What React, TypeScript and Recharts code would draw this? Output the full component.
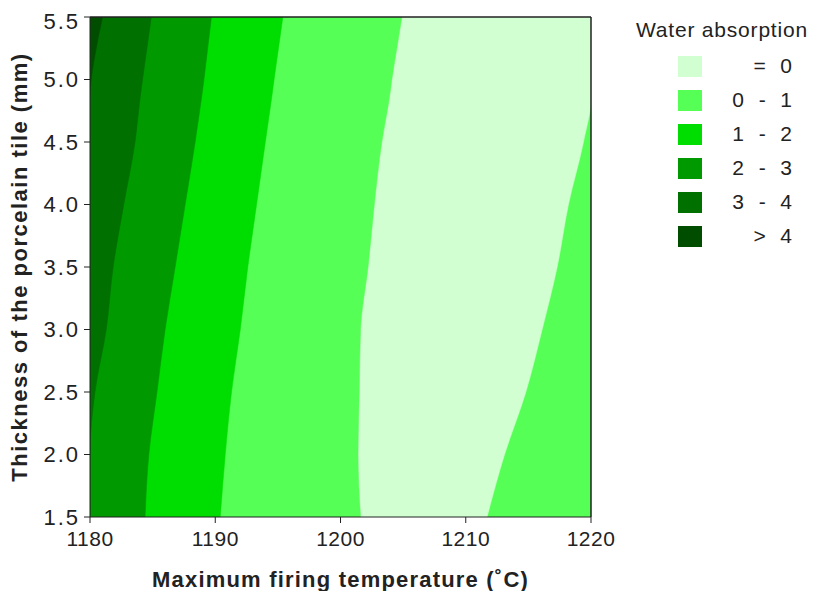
import React from 'react';
import { ComposedChart, Area, XAxis, YAxis, CartesianGrid, ReferenceLine } from 'recharts';

// Thickness of the porcelain tile (mm), bottom to top
const thickness = [1.5, 2.0, 2.5, 3.0, 3.5, 4.0, 4.5, 4.85, 5.0, 5.25, 5.5];
// Contour boundaries: temperature (°C) where each band ends, read at each thickness
const edgeOver4 = [1180, 1180, 1180, 1180, 1180, 1180, 1180, 1180, 1180.1, 1180.5, 1181.0];
const edge3to4 = [1180, 1180, 1180.4, 1181.3, 1181.85, 1182.7, 1183.6, 1184.0, 1184.2, 1184.55, 1184.9];
const edge2to3 = [1184.4, 1184.7, 1185.35, 1186.0, 1186.8, 1187.6, 1188.4, 1188.9, 1189.1, 1189.4, 1189.7];
const edge1to2 = [1190.4, 1190.8, 1191.3, 1192.0, 1192.6, 1193.3, 1194.0, 1194.5, 1194.7, 1195.05, 1195.4];
const edge0to1 = [1201.6, 1201.4, 1201.5, 1201.6, 1202.2, 1202.7, 1203.3, 1203.9, 1204.1, 1204.5, 1204.9];
const edgeZero = [1211.7, 1213.1, 1214.8, 1216.1, 1217.3, 1218.2, 1219.4, 1220, 1220, 1220, 1220];

const legendLabels = ['=  0', '0  -  1', '1  -  2', '2  -  3', '3  -  4', '>  4'];
const legendColors = ['#d2ffd2', '#55ff55', '#00dd00', '#009a00', '#007000', '#004d00'];

const xTicks = [1180, 1190, 1200, 1210, 1220];
const yTicks = [1.5, 2.0, 2.5, 3.0, 3.5, 4.0, 4.5, 5.0, 5.5];

const data = thickness.map((y, i) => ({
  y,
  zero: edgeZero[i],
  b01: edge0to1[i],
  b12: edge1to2[i],
  b23: edge2to3[i],
  b34: edge3to4[i],
  b4: edgeOver4[i],
}));

const series = [
  { key: 'zero', color: legendColors[0] },
  { key: 'b01', color: legendColors[1] },
  { key: 'b12', color: legendColors[2] },
  { key: 'b23', color: legendColors[3] },
  { key: 'b34', color: legendColors[4] },
  { key: 'b4', color: legendColors[5] },
];

const FONT = '"Liberation Sans", Arial, sans-serif';

export default function App() {
  return (
    <div style={{ position: 'relative', width: 814, height: 583, fontFamily: FONT }}>
      <ComposedChart
        width={814}
        height={583}
        data={data}
        layout="vertical"
        margin={{ top: 9, right: 231, bottom: 0, left: 0 }}
      >
        <CartesianGrid fill={legendColors[1]} horizontal={false} vertical={false} stroke="none" />
        {series.map((s) => (
          <Area
            key={s.key}
            dataKey={s.key}
            type="monotone"
            fill={s.color}
            fillOpacity={1}
            stroke={s.color}
            strokeWidth={0.5}
            baseValue="dataMin"
            isAnimationActive={false}
            dot={false}
            activeDot={false}
          />
        ))}
        <XAxis
          type="number"
          domain={[1180, 1220]}
          ticks={xTicks}
          allowDataOverflow
          height={74}
          tickSize={6}
          tickMargin={8}
          stroke="#222"
          tick={{ fill: '#222', fontSize: 21, fontFamily: FONT, letterSpacing: 0.5 }}
          label={{ value: 'Maximum firing temperature (˚C)', position: 'insideBottom', offset: 4, style: { fontSize: 22, fontWeight: 'bold', fill: '#222', fontFamily: FONT, letterSpacing: 1.2 } }}
        />
        <YAxis
          type="number"
          dataKey="y"
          domain={[1.5, 5.5]}
          ticks={yTicks}
          reversed
          allowDataOverflow
          width={82}
          tickSize={6}
          tickMargin={4}
          stroke="#222"
          tickFormatter={(v: number) => v.toFixed(1)}
          tick={{ fill: '#222', fontSize: 22, fontFamily: FONT, letterSpacing: 2 }}
          label={{ value: 'Thickness of the porcelain tile (mm)', angle: -90, position: 'insideLeft', offset: 11, style: { textAnchor: 'middle', fontSize: 22, fontWeight: 'bold', fill: '#222', fontFamily: FONT, letterSpacing: 1.5 } }}
        />
        <ReferenceLine y={5.5} stroke="#222" strokeWidth={1.5} />
        <ReferenceLine x={1220} stroke="#222" strokeWidth={1.5} />
      </ComposedChart>
      <div style={{ position: 'absolute', left: 628, top: 10, fontSize: 21, letterSpacing: 0.8, color: '#222', whiteSpace: 'nowrap' }}>
        Water absorption
      </div>
      {legendLabels.map((lab, i) => (
        <div key={lab} style={{ position: 'absolute', left: 670, top: 48 + i * 34, height: 22, width: 120 }}>
          <div style={{ position: 'absolute', left: 0, top: 0, width: 24, height: 21, background: legendColors[i] }} />
          <div style={{ position: 'absolute', right: 5, top: -2, fontSize: 21, letterSpacing: 1, color: '#222', whiteSpace: 'pre', lineHeight: '24px' }}>
            {lab}
          </div>
        </div>
      ))}
    </div>
  );
}
